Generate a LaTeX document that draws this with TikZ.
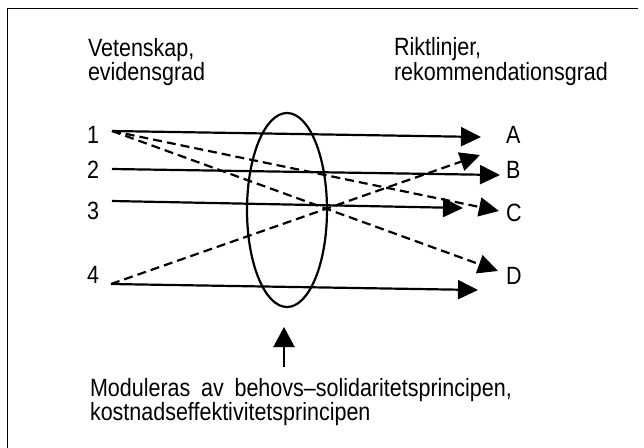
\documentclass[tikz,border=0pt]{standalone}
\usepackage{fontspec}
\setmainfont{Liberation Sans}
\usetikzlibrary{arrows.meta,shapes.geometric}
\begin{document}
\begin{tikzpicture}[x=1pt,y=-1pt,
  lbl/.style={inner sep=0pt, outer sep=0pt, xscale=0.86, font=\fontsize{25}{24.5}\selectfont, align=left},
  conn/.style={line width=2.2pt, -{Triangle[length=20pt,width=19pt]}},
  dconn/.style={conn, dash pattern=on 9pt off 5pt},
  frame/.style={line width=1.8pt}]
\useasboundingbox (0,0) rectangle (644,447);
% frame (top and left sides visible)
\coordinate (fbl) at (7.5,448);
\coordinate (ftl) at (7.5,8.5);
\coordinate (ftr) at (638,8.5);
\draw[frame] (fbl) -- (ftl) -- (ftr);
% headings
\node[lbl, anchor=north west] (vet) at (88,38) {Vetenskap,\\evidensgrad};
\node[lbl, anchor=north west] (rikt) at (394,37.5) {Riktlinjer,\\rekommendationsgrad};
% levels
\node[lbl, anchor=base west] (n1) at (87,143) {1};
\node[lbl, anchor=base west] (n2) at (87,178) {2};
\node[lbl, anchor=base west] (n3) at (87,219) {3};
\node[lbl, anchor=base west] (n4) at (87,283) {4};
\node[lbl, anchor=base west] (gA) at (506,143) {A};
\node[lbl, anchor=base west] (gB) at (506,178) {B};
\node[lbl, anchor=base west] (gC) at (506,221) {C};
\node[lbl, anchor=base west] (gD) at (506,284) {D};
% start and end points
\coordinate (s1) at (112,131);
\coordinate (s2) at (112,169);
\coordinate (s3) at (112,201);
\coordinate (s4) at (111,284);
\coordinate (eA) at (481,137);
\coordinate (eB) at (500,175);
\coordinate (e3) at (463,208);
\coordinate (eC) at (499,211);
\coordinate (eD) at (498,271);
\coordinate (eB2) at (480,155);
\coordinate (e4) at (478,290);
% ellipse
\node[draw, ellipse, line width=2.2pt, inner sep=0pt, minimum width=80pt, minimum height=194pt] (mod) at (287,210) {};
% solid arrows
\draw[conn] (s1) -- (eA);
\draw[conn] (s2) -- (eB);
\draw[conn] (s3) -- (e3);
\draw[conn] (s4) -- (e4);
% dashed arrows
\draw[dconn] (s1) -- (eC);
\draw[dconn] (s1) -- (eD);
\draw[dconn] (s4) -- (eB2);
% modulating arrow
\coordinate (mb) at (284,367);
\coordinate (mt) at (284,327);
\draw[line width=2.2pt, -{Triangle[length=20pt,width=21pt]}] (mb) -- (mt);
\node[lbl, anchor=north west] (modtxt) at (90,378) {Moduleras\hspace{12.5pt}av\hspace{12.5pt}behovs–solidaritetsprincipen,\\kostnadseffektivitetsprincipen};
\end{tikzpicture}
\end{document}
